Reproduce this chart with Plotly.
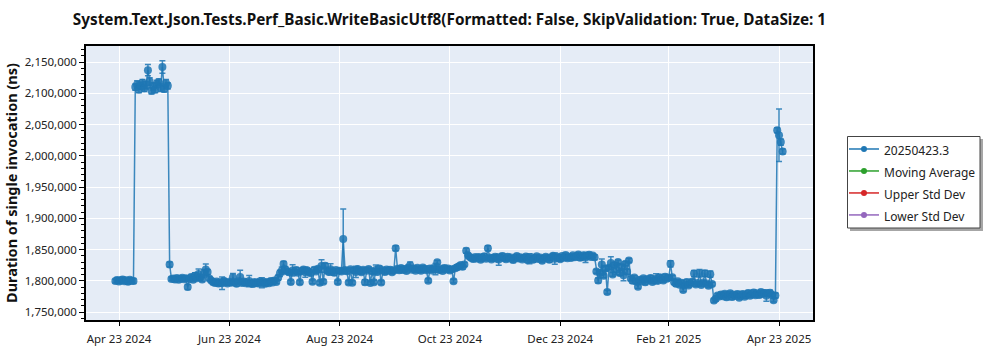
import pandas as pd
import plotly.graph_objects as go

# Daily benchmark runs, starting 2024-04-21 (one value per day)
first_run = "2024-04-21"

# Mean duration per run, in microseconds
duration_us = [
    # late April: baseline
    1799.5, 1801.2, 1798.8, 1800.4, 1802.1, 1799.3, 1800.9, 1798.6, 1801.5, 1800.2, 1799.7,
    # early/mid May: regression
    2110, 2114, 2106, 2112, 2117, 2108, 2113, 2137, 2119, 2104, 2111, 2106, 2115, 2118, 2109, 2142, 2107, 2116, 2112,
    # back to baseline
    1826, 1803,
    1803.5, 1802, 1804.5, 1801.8, 1803.2, 1805, 1802.6, 1804,
    1790,
    1803, 1806, 1801.5, 1808, 1804, 1811, 1805.5, 1802, 1812, 1818, 1814, 1803.5,
    # June - mid July
    1800.5, 1798, 1796.5, 1799, 1795.5, 1797.8, 1796, 1800.2, 1797.1, 1795.8,
    1798.4, 1796.9, 1805.5, 1797.5, 1795.2, 1799.1, 1806, 1796.4, 1798.8, 1795.9,
    1797.3, 1799.6, 1796.1, 1794.8, 1798.2, 1797, 1795.6, 1799.3, 1796.7, 1798.5,
    1795.3, 1797.9, 1796.2, 1799.8, 1797.4, 1800.6, 1798.1,
    1805, 1812, 1816, 1827, 1818,
    # late July - August
    1815.2, 1813.8, 1798, 1816.5, 1814.1, 1817.3, 1812.9, 1797.5, 1815.8, 1818.1,
    1813.6, 1816.9, 1814.4, 1812.2, 1798.3, 1817.6, 1815, 1819.2, 1796.8, 1823.5,
    1798.6, 1824.2, 1816.3, 1813.9, 1818.4, 1815.5, 1812.7, 1817.1, 1797.9, 1816.2,
    1814.8, 1867,
    # September
    1817.4, 1815.1, 1797.2, 1818.3, 1796.9, 1816.6, 1814.2, 1819, 1815.7, 1813.5,
    1817.8, 1797.6, 1816.1, 1818.9, 1796.5, 1815.3, 1797.8, 1817.2, 1814.6, 1819.5,
    1797.1, 1816.8, 1814, 1818.2, 1815.9, 1817.5, 1813.8, 1816.4,
    1852,
    # late September - October
    1819.2, 1816.8, 1820.5, 1817.3, 1818.9, 1815.6, 1821.4,
    1825, 1817.7, 1819.6, 1816.2, 1820.8, 1818.1, 1815.9, 1821.2, 1819.4, 1817,
    1800.2,
    1819.8, 1816.5, 1820.3, 1818.6,
    1829.5,
    1817.4, 1819.1, 1815.8, 1820.6, 1817.9, 1819.7, 1816.3, 1818.5,
    1799.3,
    1820.1, 1821.8, 1823.4, 1825.1, 1822.6, 1826.2,
    1848, 1841, 1838,
    # November - early January
    1836.2, 1834.8, 1838.1, 1835.5, 1837.9, 1833.6, 1836.7, 1839.2, 1835.1, 1852,
    1837.4, 1834.2, 1836.9, 1838.6, 1835.3, 1833.9, 1837.2, 1839.5, 1836, 1834.5,
    1838.3, 1835.8, 1837.1, 1833.2, 1836.4, 1839.8, 1835.6, 1837.7, 1834.1, 1836.8,
    1838.9, 1832.7, 1835.2, 1837.5, 1833.8, 1836.1, 1839.1, 1834.9, 1837.3, 1831.9,
    1835.7, 1838.4, 1836.3, 1833.5, 1837.8, 1840.2, 1835.4, 1838.7, 1836.6, 1834.3,
    1839.6, 1837, 1841.3, 1835.9, 1838.2, 1836.5, 1840.7, 1837.6, 1839.3, 1842.1,
    1836.8, 1838.5, 1840.9, 1837.2, 1839.7, 1841.5, 1838, 1840.3, 1837.7,
    # January: noisy
    1815, 1800.5, 1812.3, 1826, 1808, 1819.5, 1782, 1821, 1828.5, 1810.2,
    1825.4, 1817.8, 1830.1, 1812.6, 1822.7, 1808.9, 1827.3, 1814.5, 1832.6,
    # February
    1803.5, 1800.2, 1805.1, 1798.7, 1790.5,
    1801.8, 1799.4, 1803.9, 1797.6, 1802.3, 1800.8, 1804.6, 1798.2, 1801.1, 1803.2,
    1799.9, 1805.8, 1802.7, 1800.4, 1806.3, 1803.1, 1804.9,
    1827.2, 1805.5,
    # late February - March
    1797.5, 1795.2, 1799.1, 1793.6, 1796.8, 1785.3, 1794.2, 1797.9, 1792.5, 1795.7,
    1798.3, 1811.5, 1794.1, 1796.4, 1812.2, 1793.3, 1797.1, 1811.8, 1795.5, 1791.9,
    1810.6, 1794.7,
    # mid March - April
    1768.4, 1771.2, 1776.5, 1774.8, 1778.1, 1775.3, 1779.4, 1773.6, 1776.9, 1780.2,
    1774.1, 1777.6, 1775.8, 1779, 1772.9, 1776.3, 1778.7, 1774.5, 1777.2, 1780.6,
    1775.9, 1778.4, 1781.3, 1776.7, 1779.8, 1777.4, 1782.1, 1778.9, 1780.5, 1776.2,
    1779.3, 1781, 1777.8, 1768.9, 1776.4,
    # 20250423.3
    2041, 2033, 2022, 2007,
]

# Standard error per run, in microseconds
error_us = [
    3, 4, 3, 3, 4, 3, 3, 4, 3, 3, 4,
    5, 6, 5, 6, 5, 5, 6, 9, 6, 5, 6, 5, 6, 5, 6, 10, 5, 6, 5,
    4, 3,
    3, 4, 3, 3, 4, 3, 3, 4,
    4,
    3, 4, 3, 5, 3, 8, 4, 3, 6, 9, 4, 3,
    3, 4, 3, 3, 4, 3, 10, 3, 4, 3, 3, 4, 6, 3, 4, 3, 11, 3, 4, 3,
    3, 9, 3, 4, 3, 3, 4, 3, 8, 3, 4, 3, 3, 4, 3, 4, 3,
    4, 5, 6, 4, 5,
    3, 4, 3, 9, 3, 4, 3, 3, 4, 3, 8, 3, 4, 3, 3, 4, 3, 3, 3, 10,
    3, 4, 3, 3, 9, 3, 4, 3, 3, 4,
    3, 48,
    3, 4, 3, 3, 3, 4, 9, 3, 4, 3, 3, 4, 3, 3, 3, 4, 3, 8, 3, 4,
    3, 3, 4, 3, 3, 4, 3, 3,
    4,
    3, 4, 3, 3, 4, 3, 3, 5, 3, 4, 3, 3, 4, 3, 3, 4, 3, 3, 4, 3,
    3, 9, 3, 4, 3, 3, 4, 3, 3, 3, 4, 3, 3, 4, 3, 3, 4, 3,
    4, 3, 3,
    3, 4, 3, 3, 4, 3, 3, 4, 3, 4, 3, 3, 4, 3, 3, 9, 3, 4, 3, 3,
    4, 3, 3, 4, 3, 3, 4, 3, 3, 4, 3, 3, 8, 3, 4, 3, 3, 4, 3, 3,
    4, 3, 3, 4, 3, 3, 9, 3, 4, 3, 3, 4, 3, 3, 4, 3, 3, 4, 3, 3,
    4, 3, 3, 8, 3, 4, 3, 3, 4,
    3, 4, 3, 9, 3, 4, 3, 3, 10, 3, 4, 8, 3, 4, 3, 9, 3, 4, 3,
    3, 4, 3, 3, 3, 4, 3, 3, 4, 3, 3, 4, 3, 3, 8, 3, 4, 3, 3, 4,
    3, 3, 5, 3,
    3, 4, 3, 3, 4, 3, 3, 4, 3, 3, 4, 5, 3, 3, 6, 3, 3, 5, 3, 3,
    5, 3,
    3, 4, 3, 3, 4, 3, 3, 4, 3, 3, 4, 3, 3, 4, 3, 3, 4, 3, 3, 4,
    3, 3, 4, 3, 3, 4, 3, 3, 4, 9, 3, 4, 3, 3, 4,
    4, 42, 5, 4,
]

assert len(duration_us) == len(error_us)

x_tick_dates = ["2024-04-23", "2024-06-23", "2024-08-23", "2024-10-23",
                "2024-12-23", "2025-02-21", "2025-04-23"]
x_tick_text = ["Apr 23 2024", "Jun 23 2024", "Aug 23 2024", "Oct 23 2024",
               "Dec 23 2024", "Feb 21 2025", "Apr 23 2025"]

legend_names = ["20250423.3", "Moving Average", "Upper Std Dev", "Lower Std Dev"]
legend_colors = ["#1f77b4", "#2ca02c", "#d62728", "#9467bd"]

run_dates = pd.date_range(first_run, periods=len(duration_us), freq="D")
duration_ns = [v * 1000 for v in duration_us]
error_ns = [e * 1000 for e in error_us]

FONT = "Noto Sans"
TICK_FONT = dict(family=FONT, size=11.5, color="#222")


def legend_label(text):
    return f'<span style="font-size:12px">{text}</span>'


fig = go.Figure()
fig.add_trace(go.Scatter(
    x=run_dates, y=duration_ns, name=legend_label(legend_names[0]),
    legendgroup="run", showlegend=False,
    mode="lines+markers",
    line=dict(color="rgba(31,119,180,0.85)", width=1.5),
    marker=dict(color=legend_colors[0], size=8, opacity=0.85),
    error_y=dict(type="data", array=error_ns, visible=True,
                 color="rgba(31,119,180,0.85)", thickness=1.5, width=3),
))
# legend entries (the run gets a small marker like the others)
for i, (name, color) in enumerate(zip(legend_names, legend_colors)):
    fig.add_trace(go.Scatter(
        x=[None], y=[None], name=legend_label(name), mode="lines+markers",
        legendgroup="run" if i == 0 else name,
        line=dict(color=color, width=1.5), marker=dict(color=color, size=6),
    ))

# legend frame with drop shadow (paper coords of a 727x274 plot area)
def px_x(p):
    return (p - 86) / 727

def px_y(p):
    return (320 - p) / 274

fig.add_shape(type="rect", xref="paper", yref="paper",
              x0=px_x(850), x1=px_x(983), y0=px_y(231), y1=px_y(139),
              fillcolor="rgba(0,0,0,0.35)", line=dict(width=0), layer="above")
fig.add_shape(type="rect", xref="paper", yref="paper",
              x0=px_x(847.5), x1=px_x(980), y0=px_y(228), y1=px_y(136.5),
              fillcolor="white", line=dict(color="#444", width=1), layer="above")

fig.update_layout(
    width=1000, height=350,
    margin=dict(l=86, r=187, t=46, b=30),
    paper_bgcolor="white", plot_bgcolor="#e5ecf6",
    font=dict(family=FONT, size=12, color="#222"),
    title=dict(
        text="<b>System.Text.Json.Tests.Perf_Basic.WriteBasicUtf8(Formatted: False, SkipValidation: True, DataSize: 1</b>",
        x=0.5, xref="paper", xanchor="center", y=0.945, yanchor="middle",
        font=dict(family=FONT, size=15.3, color="#111"),
    ),
    showlegend=True,
    legend=dict(x=px_x(844), y=px_y(133), xanchor="left", yanchor="top",
                bgcolor="rgba(0,0,0,0)", borderwidth=0,
                font=dict(family=FONT, size=14.6, color="#222"),
                tracegroupgap=0),
    xaxis=dict(
        range=["2024-04-04 18:00", "2025-05-11 19:00"],
        tickvals=x_tick_dates, ticktext=x_tick_text,
        showgrid=True, gridcolor="white", gridwidth=1,
        showline=True, linecolor="black", linewidth=1.5, mirror=True,
        ticks="outside", ticklen=4, tickcolor="black",
        ticklabelstandoff=3,
        tickfont=TICK_FONT,
        zeroline=False, automargin=False,
    ),
    yaxis=dict(
        range=[1737200, 2175600],
        dtick=50000, tick0=1750000, tickformat=",d",
        showgrid=True, gridcolor="white", gridwidth=1,
        showline=True, linecolor="black", linewidth=1.5, mirror=True,
        ticks="outside", ticklen=5, tickcolor="black",
        minor=dict(ticks="outside", ticklen=3, dtick=10000, tickcolor="black", showgrid=False),
        tickfont=TICK_FONT,
        title=dict(text="<b>Duration of single invocation (ns)</b>",
                   font=dict(family=FONT, size=14.5, color="#111"), standoff=4),
        zeroline=False, automargin=False,
    ),
)

fig.write_html("out.html")
